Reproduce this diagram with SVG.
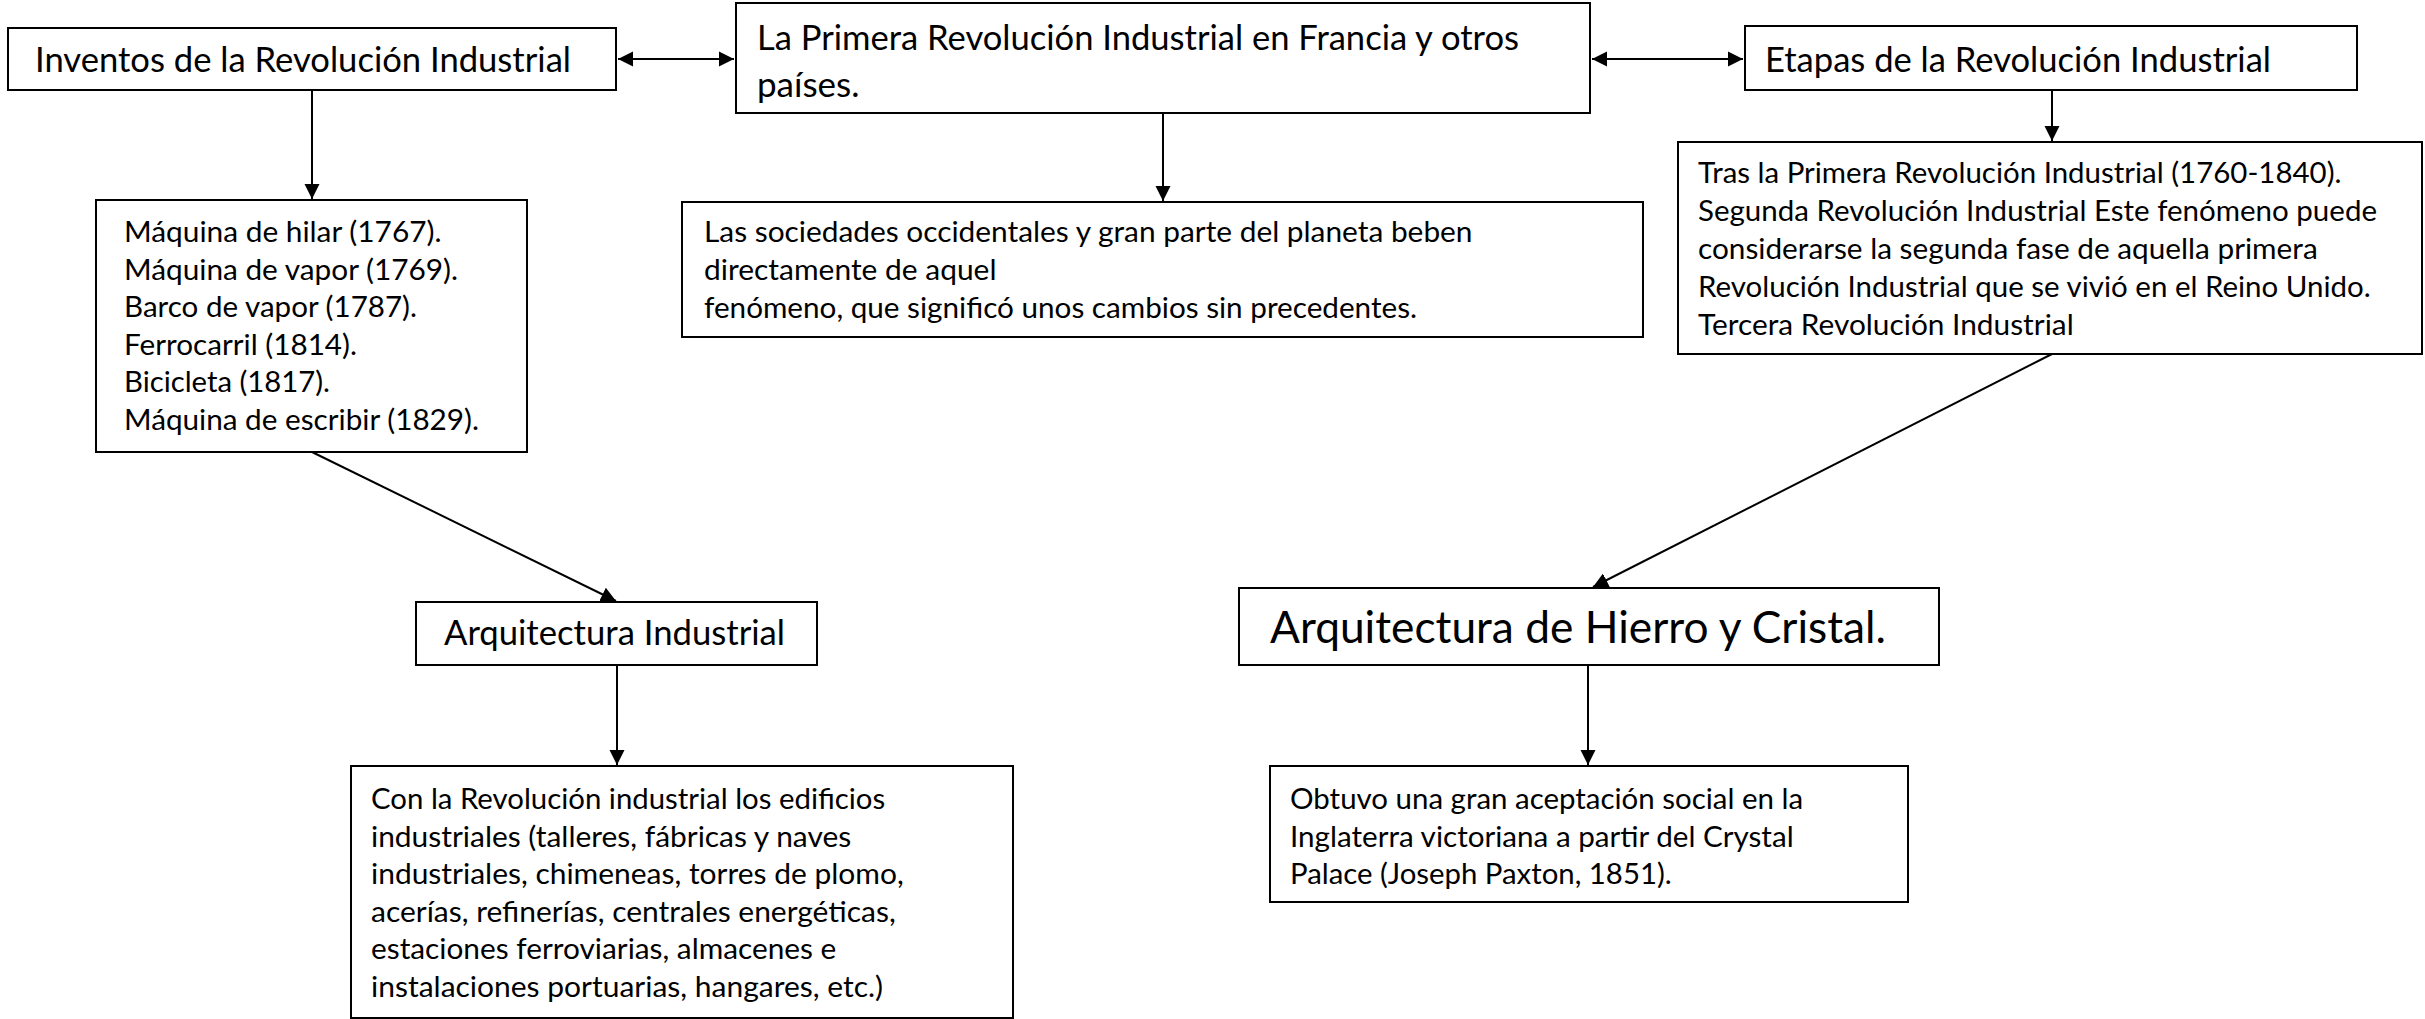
<svg xmlns="http://www.w3.org/2000/svg" width="2425" height="1019" viewBox="0 0 2425 1019">
<style>
.box{fill:#fff;stroke:#000;stroke-width:2}
.t{font-family:Lato,"Open Sans","Liberation Sans",sans-serif;fill:#000}
.l{font-size:34.5px}
.m{font-size:29.5px}
.x{font-size:45px}
.c{fill:none;stroke:#000;stroke-width:2}
</style>
<defs>
<marker id="ah" markerUnits="userSpaceOnUse" markerWidth="16" markerHeight="16" viewBox="0 0 16 16" refX="15" refY="8" orient="auto-start-reverse">
<path d="M0,0.5 L15,8 L0,15.5 Z" fill="#000"/>
</marker>
</defs>
<rect width="2425" height="1019" fill="#fff"/>
<g id="connectors">
<line class="c" x1="618" y1="59" x2="734" y2="59" marker-start="url(#ah)" marker-end="url(#ah)"/>
<line class="c" x1="1592" y1="59" x2="1743" y2="59" marker-start="url(#ah)" marker-end="url(#ah)"/>
<line class="c" x1="312" y1="90" x2="312" y2="199" marker-end="url(#ah)"/>
<line class="c" x1="1163" y1="113" x2="1163" y2="201" marker-end="url(#ah)"/>
<line class="c" x1="2052" y1="90" x2="2052" y2="141" marker-end="url(#ah)"/>
<line class="c" x1="312" y1="452" x2="616" y2="601" marker-end="url(#ah)"/>
<line class="c" x1="2052" y1="354" x2="1593" y2="587" marker-end="url(#ah)"/>
<line class="c" x1="617" y1="665" x2="617" y2="765" marker-end="url(#ah)"/>
<line class="c" x1="1588" y1="665" x2="1588" y2="765" marker-end="url(#ah)"/>
</g>
<g id="inventos">
<rect class="box" x="8" y="28" width="608" height="62"/>
<text class="t l" x="35" y="72" textLength="536" lengthAdjust="spacingAndGlyphs">Inventos de la Revolución Industrial</text>
</g>
<g id="primera">
<rect class="box" x="736" y="3" width="854" height="110"/>
<text class="t l" x="757" y="50" textLength="762" lengthAdjust="spacingAndGlyphs">La Primera Revolución Industrial en Francia y otros</text>
<text class="t l" x="757" y="97" textLength="102.5" lengthAdjust="spacingAndGlyphs">países.</text>
</g>
<g id="etapas">
<rect class="box" x="1745" y="26" width="612" height="64"/>
<text class="t l" x="1765" y="72" textLength="506" lengthAdjust="spacingAndGlyphs">Etapas de la Revolución Industrial</text>
</g>
<g id="lista-inventos">
<rect class="box" x="96" y="200" width="431" height="252"/>
<text class="t m" x="124" y="242" textLength="317.5" lengthAdjust="spacingAndGlyphs">Máquina de hilar (1767).</text>
<text class="t m" x="124" y="279.5" textLength="334" lengthAdjust="spacingAndGlyphs">Máquina de vapor (1769).</text>
<text class="t m" x="124" y="317" textLength="293" lengthAdjust="spacingAndGlyphs">Barco de vapor (1787).</text>
<text class="t m" x="124" y="354.5" textLength="233" lengthAdjust="spacingAndGlyphs">Ferrocarril (1814).</text>
<text class="t m" x="124" y="392" textLength="206" lengthAdjust="spacingAndGlyphs">Bicicleta (1817).</text>
<text class="t m" x="124" y="429.5" textLength="355" lengthAdjust="spacingAndGlyphs">Máquina de escribir (1829).</text>
</g>
<g id="sociedades">
<rect class="box" x="682" y="202" width="961" height="135"/>
<text class="t m" x="704" y="242" textLength="768.5" lengthAdjust="spacingAndGlyphs">Las sociedades occidentales y gran parte del planeta beben</text>
<text class="t m" x="704" y="280" textLength="292.5" lengthAdjust="spacingAndGlyphs">directamente de aquel</text>
<text class="t m" x="704" y="318" textLength="713" lengthAdjust="spacingAndGlyphs">fenómeno, que significó unos cambios sin precedentes.</text>
</g>
<g id="etapas-texto">
<rect class="box" x="1678" y="142" width="744" height="212"/>
<text class="t m" x="1698" y="183" textLength="643.5" lengthAdjust="spacingAndGlyphs">Tras la Primera Revolución Industrial (1760-1840).</text>
<text class="t m" x="1698" y="221" textLength="679" lengthAdjust="spacingAndGlyphs">Segunda Revolución Industrial Este fenómeno puede</text>
<text class="t m" x="1698" y="259" textLength="619.7" lengthAdjust="spacingAndGlyphs">considerarse la segunda fase de aquella primera</text>
<text class="t m" x="1698" y="297" textLength="672.8" lengthAdjust="spacingAndGlyphs">Revolución Industrial que se vivió en el Reino Unido.</text>
<text class="t m" x="1698" y="335" textLength="375.7" lengthAdjust="spacingAndGlyphs">Tercera Revolución Industrial</text>
</g>
<g id="arq-industrial">
<rect class="box" x="416" y="602" width="401" height="63"/>
<text class="t l" x="444" y="645" textLength="341" lengthAdjust="spacingAndGlyphs">Arquitectura Industrial</text>
</g>
<g id="arq-industrial-texto">
<rect class="box" x="351" y="766" width="662" height="252"/>
<text class="t m" x="371" y="809" textLength="514.2" lengthAdjust="spacingAndGlyphs">Con la Revolución industrial los edificios</text>
<text class="t m" x="371" y="846.5" textLength="480.2" lengthAdjust="spacingAndGlyphs">industriales (talleres, fábricas y naves</text>
<text class="t m" x="371" y="884" textLength="532.7" lengthAdjust="spacingAndGlyphs">industriales, chimeneas, torres de plomo,</text>
<text class="t m" x="371" y="921.5" textLength="524.7" lengthAdjust="spacingAndGlyphs">acerías, refinerías, centrales energéticas,</text>
<text class="t m" x="371" y="959" textLength="465.3" lengthAdjust="spacingAndGlyphs">estaciones ferroviarias, almacenes e</text>
<text class="t m" x="371" y="996.5" textLength="512.1" lengthAdjust="spacingAndGlyphs">instalaciones portuarias, hangares, etc.)</text>
</g>
<g id="arq-hierro">
<rect class="box" x="1239" y="588" width="700" height="77"/>
<text class="t x" x="1270" y="643" textLength="616" lengthAdjust="spacingAndGlyphs">Arquitectura de Hierro y Cristal.</text>
</g>
<g id="arq-hierro-texto">
<rect class="box" x="1270" y="766" width="638" height="136"/>
<text class="t m" x="1290" y="809" textLength="513.1" lengthAdjust="spacingAndGlyphs">Obtuvo una gran aceptación social en la</text>
<text class="t m" x="1290" y="846.5" textLength="503.7" lengthAdjust="spacingAndGlyphs">Inglaterra victoriana a partir del Crystal</text>
<text class="t m" x="1290" y="884" textLength="381.7" lengthAdjust="spacingAndGlyphs">Palace (Joseph Paxton, 1851).</text>
</g>
</svg>
